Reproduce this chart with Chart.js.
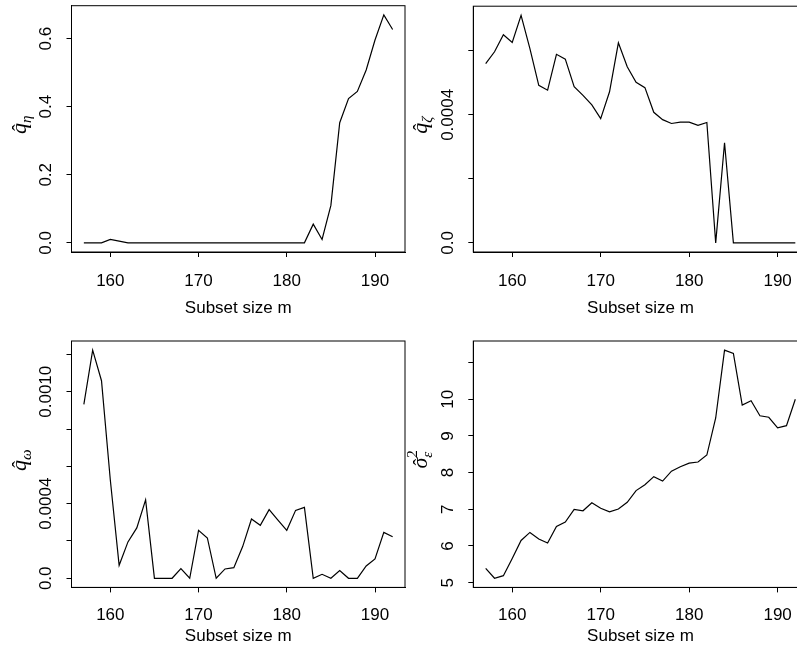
<!DOCTYPE html>
<html>
<head>
<meta charset="utf-8">
<script src="https://cdn.jsdelivr.net/npm/chart.js@4.4.0/dist/chart.umd.min.js"></script>
<style>
html, body { margin: 0; padding: 0; overflow: hidden; background: #fff; width: 797px; height: 656px; }
canvas { position: absolute; }
</style>
</head>
<body>
<canvas id="pEta" width="410" height="328" style="left:0px;top:0px"></canvas>
<canvas id="pZeta" width="420" height="328" style="left:400px;top:0px"></canvas>
<canvas id="pOmega" width="410" height="326" style="left:0px;top:330px"></canvas>
<canvas id="pSigma" width="420" height="326" style="left:400px;top:330px"></canvas>
<script>
// subset size m on the x axis
const subsetSize = [157, 158, 159, 160, 161, 162, 163, 164, 165, 166, 167, 168, 169, 170, 171, 172, 173, 174,
    175, 176, 177, 178, 179, 180, 181, 182, 183, 184, 185, 186, 187, 188, 189, 190, 191, 192];

const qEta = [0, 0, 0, 0.01, 0.005, 0, 0, 0, 0, 0, 0, 0, 0, 0, 0, 0, 0, 0,
    0, 0, 0, 0, 0, 0, 0, 0, 0.055, 0.01, 0.11, 0.353, 0.424, 0.445, 0.508, 0.596, 0.67, 0.627];

const qZeta = [0.000560, 0.000597, 0.000650, 0.000626, 0.000711, 0.000607, 0.000492, 0.000477, 0.000589,
    0.000574, 0.000488, 0.000461, 0.000431, 0.000388, 0.000472, 0.000625, 0.000550, 0.000502,
    0.000485, 0.000408, 0.000385, 0.000373, 0.000377, 0.000377, 0.000367, 0.000376, 0, 0.000313,
    0, 0, 0, 0, 0, 0, 0, 0];

const qOmega = [0.000932, 0.001223, 0.001059, 0.000527, 0.0000696, 0.000195, 0.000270, 0.000420, 0,
    0, 0, 0.0000518, 0, 0.000257, 0.000216, 0, 0.00005, 0.000057,
    0.00017, 0.000318, 0.000284, 0.000368, 0.000312, 0.000257, 0.000364, 0.00038, 0,
    0.0000214, 0, 0.000041, 0, 0, 0.000066, 0.000104, 0.000246, 0.000223];

const sigma2 = [5.39, 5.12, 5.19, 5.66, 6.15, 6.37, 6.19, 6.08, 6.53, 6.65, 7.0, 6.96, 7.18, 7.03, 6.93, 7.01,
    7.19, 7.51, 7.67, 7.89, 7.77, 8.04, 8.16, 8.26, 8.29, 8.48, 9.49, 11.34, 11.25, 9.84, 9.96, 9.55,
    9.51, 9.22, 9.28, 10.0];

// tick positions and labels
const xTicks = [160, 170, 180, 190];
const etaTicks = [0, 0.2, 0.4, 0.6];
const etaLabels = ["0.0", "0.2", "0.4", "0.6"];
const zetaTicks = [0, 0.0002, 0.0004, 0.0006];
const zetaLabels = ["0.0", "", "0.0004", ""];
const omegaTicks = [0, 0.0002, 0.0004, 0.0006, 0.0008, 0.0010, 0.0012];
const omegaLabels = ["0.0", "", "0.0004", "", "", "0.0010", ""];
const sigmaTicks = [5, 6, 7, 8, 9, 10, 11];
const sigmaLabels = ["5", "6", "7", "8", "9", "10", ""];

const xTitle = "Subset size m";

Chart.defaults.font.family = "'Liberation Sans', Arial, sans-serif";
Chart.defaults.font.size = 17;
Chart.defaults.color = "#000";

const drawYTitle = (ctx, x, y, sym) => {
    ctx.save();
    ctx.translate(x, y);
    ctx.rotate(-Math.PI / 2);
    ctx.fillStyle = "#000";
    ctx.textBaseline = "alphabetic";
    ctx.textAlign = "left";
    const baseFont = "italic 22px 'Liberation Serif', serif";
    const subFont = "italic 15px 'Liberation Serif', serif";
    ctx.font = baseFont;
    const wb = ctx.measureText(sym.base).width;
    ctx.font = subFont;
    const ws = ctx.measureText(sym.sub).width;
    const start = -(wb + ws) / 2;
    ctx.font = baseFont;
    ctx.fillText(sym.base, start, 0);
    // hat
    ctx.font = "20px 'Liberation Serif', serif";
    ctx.textAlign = "center";
    ctx.fillText("\u02C6", start + wb / 2 + 1, 1);
    ctx.textAlign = "left";
    ctx.font = subFont;
    ctx.fillText(sym.sub, start + wb, 5);
    if (sym.sup) {
        ctx.font = "15px 'Liberation Serif', serif";
        ctx.fillText(sym.sup, start + wb, -10);
    }
    ctx.restore();
};

const boxPlugin = {
    id: "rbox",
    afterDraw(chart, args, opts) {
        const {ctx, chartArea} = chart;
        const yScale = chart.scales.y;
        ctx.save();
        ctx.strokeStyle = "#000";
        ctx.lineWidth = 1;
        ctx.strokeRect(chartArea.left, chartArea.top, chartArea.right - chartArea.left, chartArea.bottom - chartArea.top);
        // rotated y tick labels like R
        ctx.font = "17px 'Liberation Sans', Arial, sans-serif";
        ctx.fillStyle = "#000";
        ctx.textAlign = "center";
        ctx.textBaseline = "middle";
        opts.tickValues.forEach((v, i) => {
            if (!opts.tickLabels[i]) return;
            const py = yScale.getPixelForValue(v);
            ctx.save();
            ctx.translate(chartArea.left - 25, py);
            ctx.rotate(-Math.PI / 2);
            ctx.fillText(opts.tickLabels[i], 0, 0);
            ctx.restore();
        });
        ctx.restore();
        drawYTitle(ctx, chartArea.left - 46, (chartArea.top + chartArea.bottom) / 2 - 4, opts.symbol);
    }
};

const makePanel = (id, values, yMin, yMax, yTicks, yLabels, symbol, lay) => {
    return new Chart(document.getElementById(id).getContext("2d"), {
        type: "line",
        data: {
            labels: subsetSize,
            datasets: [{
                data: subsetSize.map((m, i) => ({x: m, y: values[i]})),
                borderColor: "#000",
                borderWidth: 1.2,
                pointRadius: 0,
                tension: 0,
                fill: false
            }]
        },
        options: {
            responsive: false,
            animation: false,
            events: [],
            layout: {padding: {top: lay.top, right: lay.right, left: 0, bottom: 0}},
            plugins: {
                legend: {display: false},
                tooltip: {enabled: false},
                rbox: {tickValues: yTicks, tickLabels: yLabels, symbol: symbol}
            },
            scales: {
                x: {
                    type: "linear",
                    min: 155.6,
                    max: 193.4,
                    afterBuildTicks: s => { s.ticks = xTicks.map(v => ({value: v})); },
                    afterFit: s => { s.height = lay.xHeight; },
                    grid: {drawOnChartArea: false, drawTicks: true, tickLength: 5, color: "#000"},
                    border: {display: true, color: "#000"},
                    ticks: {padding: lay.tickPad, maxRotation: 0, autoSkip: false, font: {size: 17}},
                    title: {display: true, text: xTitle, font: {size: 17}, padding: {top: 0, bottom: lay.titlePad}}
                },
                y: {
                    type: "linear",
                    min: yMin,
                    max: yMax,
                    afterBuildTicks: s => { s.ticks = yTicks.map(v => ({value: v})); },
                    afterFit: s => { s.width = lay.yWidth; },
                    grid: {drawOnChartArea: false, drawTicks: true, tickLength: 5, color: "#000"},
                    border: {display: true, color: "#000"},
                    ticks: {display: false}
                }
            }
        },
        plugins: [boxPlugin]
    });
};

const topLeft = {top: 5.7, right: 5, yWidth: 71.5, xHeight: 76, tickPad: 13.8, titlePad: 9.3};
const topRight = {top: 6.2, right: 12.3, yWidth: 73.3, xHeight: 76, tickPad: 13.8, titlePad: 9.3};
const botLeft = {top: 11, right: 5, yWidth: 71.5, xHeight: 68.6, tickPad: 12.4, titlePad: 9.8};
const botRight = {top: 11, right: 12.3, yWidth: 73.3, xHeight: 68.6, tickPad: 12.4, titlePad: 9.8};

makePanel("pEta", qEta, -0.0268, 0.6968, etaTicks, etaLabels, {base: "q", sub: "\u03B7"}, topLeft);
makePanel("pZeta", qZeta, -0.00002844, 0.0007394, zetaTicks, zetaLabels, {base: "q", sub: "\u03B6"}, topRight);
makePanel("pOmega", qOmega, -0.0000489, 0.0012719, omegaTicks, omegaLabels, {base: "q", sub: "\u03C9"}, botLeft);
makePanel("pSigma", sigma2, 4.871, 11.589, sigmaTicks, sigmaLabels, {base: "\u03C3", sub: "\u03B5", sup: "2"}, botRight);
</script>
</body>
</html>
